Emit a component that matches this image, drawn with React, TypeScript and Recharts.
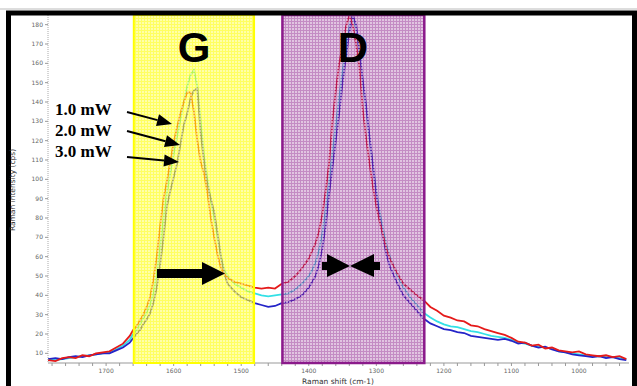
import React from 'react';
import { LineChart, Line, XAxis, YAxis, ReferenceArea } from 'recharts';

const ramanShift = [
  1786, 1775, 1765, 1755, 1745, 1735, 1725, 1715, 1705, 1695, 1685, 1675, 1665, 1660, 1655, 1650,
  1645, 1640, 1635, 1630, 1625, 1620, 1615, 1610, 1605, 1600, 1595, 1590, 1585, 1580, 1575, 1570,
  1565, 1560, 1555, 1550, 1545, 1540, 1535, 1530, 1525, 1520, 1510, 1500, 1490, 1480, 1470, 1460,
  1450, 1440, 1430, 1420, 1410, 1400, 1395, 1390, 1385, 1380, 1375, 1370, 1365, 1360, 1355, 1350,
  1345, 1340, 1335, 1330, 1325, 1320, 1315, 1310, 1305, 1300, 1295, 1290, 1285, 1280, 1270, 1260,
  1250, 1240, 1230, 1220, 1210, 1200, 1190, 1180, 1170, 1160, 1150, 1140, 1130, 1120, 1110, 1100,
  1090, 1080, 1070, 1060, 1050, 1040, 1030, 1020, 1010, 1000, 990, 980, 970, 960, 950, 940, 930,
];

// 1.0 mW (red)
const power1mW = [
  6.5, 6, 7.5, 8, 7.5, 9, 8.5, 10, 10.5, 11, 13, 15, 19, 22, 24, 27,
  30, 34, 39, 48, 60, 76, 90, 99, 109, 119, 127, 134, 140, 145, 145, 135,
  120, 109, 103, 93, 80, 70, 61, 54, 51, 49, 47, 46, 45, 44, 43.5, 44,
  43.5, 46, 47, 50, 54, 59, 63, 67, 73, 82, 94, 108, 130, 146, 160, 169,
  179, 185, 180, 170, 158, 136, 121, 108, 96, 86, 78, 71, 64, 59, 52, 46,
  43, 40, 37.5, 34, 32, 29.5, 28.5, 27, 26.5, 24.5, 24, 22.5, 21.5, 20.5, 19.5, 18,
  16, 15.5, 14, 14.5, 12.5, 13, 11.5, 11, 10.5, 11, 9.5, 9, 8.5, 9, 8, 8.5, 7,
];

// 2.0 mW (cyan)
const power2mW = [
  7, 6.5, 7, 7.5, 8, 8.5, 9, 9.5, 10, 10.5, 12, 14, 17, 20, 22, 25,
  28, 31, 35, 41, 51, 65, 80, 93, 103, 113, 122, 131, 140, 148, 154, 156.5,
  148, 130, 112, 100, 89, 80, 70, 60, 53, 50, 46, 44, 42, 41, 40, 39.5,
  40, 40.5, 41, 43, 46, 50, 53, 57, 63, 72, 84, 98, 114, 128, 142, 156,
  168, 179, 185, 178, 166, 150, 136, 121, 107, 94, 83, 74, 66, 60, 51, 44,
  39, 35, 31, 28.5, 26.5, 25, 24, 23.5, 22.5, 21.5, 21, 20, 19, 18.5, 18, 17,
  15.5, 15, 14, 13.5, 13, 12.5, 11, 10.5, 10, 9.5, 9, 8.5, 8.5, 8, 8, 7.5, 7,
];

// 3.0 mW (blue)
const power3mW = [
  7, 7.5, 7, 8, 8.5, 8, 9, 9.5, 10, 10, 11.5, 13, 15.5, 17.8, 20, 22,
  25, 27.5, 30.7, 36, 44, 56, 70, 86, 94, 101, 108, 118, 128, 134, 142, 146,
  147, 124, 109, 97, 90, 83, 72, 60, 51, 46, 42, 39, 37.5, 36, 35, 34,
  34.5, 36, 36.5, 38, 40, 44, 47, 50, 56, 64, 76, 92, 106, 120, 134, 150,
  163, 176, 185, 180, 166, 151, 138, 122, 107, 92, 80, 70, 61, 55, 47, 40,
  36, 32, 28, 25.5, 24, 22.5, 22, 21, 20.5, 19, 18.5, 18, 17.5, 17, 17.5, 16.5,
  15, 15.5, 14, 13, 13.5, 12, 11, 10.5, 9.5, 9, 8.5, 8, 8.5, 7.5, 8, 7, 6.5,
];

const seriesLabels = ['1.0 mW', '2.0 mW', '3.0 mW'];
const seriesColors = ['#e51a1a', '#33e0e6', '#2424c8'];
const xTicks = [
  1780, 1760, 1740, 1720, 1700, 1680, 1660, 1640, 1620, 1600, 1580, 1560, 1540, 1520, 1500, 1480,
  1460, 1440, 1420, 1400, 1380, 1360, 1340, 1320, 1300, 1280, 1260, 1240, 1220, 1200, 1180, 1160,
  1140, 1120, 1100, 1080, 1060, 1040, 1020, 1000, 980, 960, 940,
];
const xTickLabels = [1700, 1600, 1500, 1400, 1300, 1200, 1100, 1000];
const yTicks = [10, 20, 30, 40, 50, 60, 70, 80, 90, 100, 110, 120, 130, 140, 150, 160, 170, 180];
const bandG = [1659, 1481];
const bandD = [1439, 1229];
const bandLabels = ['G', 'D'];
const xTitle = 'Raman shift (cm-1)';
const yTitle = 'Raman intensity (cps)';

const data = ramanShift.map((s, i) => ({
  shift: s,
  p1: power1mW[i],
  p2: power2mW[i],
  p3: power3mW[i],
}));

function arrowHead(x1: number, y1: number, x2: number, y2: number, len: number, half: number) {
  const dx = x2 - x1;
  const dy = y2 - y1;
  const d = Math.sqrt(dx * dx + dy * dy);
  const ux = dx / d;
  const uy = dy / d;
  const bx = x2 - ux * len;
  const by = y2 - uy * len;
  const px = -uy;
  const py = ux;
  return {
    pts: `${x2},${y2} ${bx + px * half},${by + py * half} ${bx - px * half},${by - py * half}`,
    bx,
    by,
  };
}

const smallArrows = [
  [127, 112, 172, 124],
  [127, 131, 180, 145],
  [127, 157, 179, 162],
];

const tickStyle = { fontSize: 6, fill: '#666', fontFamily: 'DejaVu Sans' };

export default function App() {
  return (
    <div style={{ position: 'absolute', left: 0, top: 0, width: 637, height: 386, background: '#fff', overflow: 'hidden' }}>
      <svg width={0} height={0} style={{ position: 'absolute' }}>
        <defs>
          <pattern id="yellowGrid" width="3" height="3" patternUnits="userSpaceOnUse">
            <rect width="3" height="3" fill="#ffff00" fillOpacity="0.62" />
            <rect x="1" y="1" width="2" height="2" fill="#ffffff" fillOpacity="0.45" />
          </pattern>
          <pattern id="purpleGrid" width="3" height="3" patternUnits="userSpaceOnUse">
            <rect width="3" height="3" fill="#8a1a8a" fillOpacity="0.5" />
            <rect x="1" y="1" width="2" height="2" fill="#ffffff" fillOpacity="0.5" />
          </pattern>
        </defs>
      </svg>
      <LineChart width={637} height={386} data={data} margin={{ top: 15, right: 8, bottom: 5, left: 26 }}>
        <XAxis
          dataKey="shift"
          type="number"
          domain={[926, 1786]}
          reversed
          ticks={xTicks}
          interval={0}
          allowDataOverflow
          height={18}
          tickSize={3}
          tickMargin={3}
          tick={tickStyle}
          tickFormatter={(v: number) => (xTickLabels.includes(v) ? String(v) : '')}
          stroke="#999"
        />
        <YAxis
          type="number"
          domain={[5, 185]}
          ticks={yTicks}
          interval={0}
          allowDataOverflow
          width={22}
          tickSize={3}
          tickMargin={2}
          tick={tickStyle}
          axisLine={{ stroke: '#aaa', strokeDasharray: '1 1' }}
          tickLine={{ stroke: '#999' }}
        />
        <Line dataKey="p2" stroke={seriesColors[1]} strokeWidth={1.8} dot={false} isAnimationActive={false} />
        <Line dataKey="p3" stroke={seriesColors[2]} strokeWidth={1.8} dot={false} isAnimationActive={false} />
        <Line dataKey="p1" stroke={seriesColors[0]} strokeWidth={1.8} dot={false} isAnimationActive={false} />
        <ReferenceArea
          x1={bandG[0]}
          x2={bandG[1]}
          fill="url(#yellowGrid)"
          fillOpacity={1}
          stroke="#ffff00"
          strokeWidth={2}
          zIndex={900}
        />
        <ReferenceArea
          x1={bandD[0]}
          x2={bandD[1]}
          fill="url(#purpleGrid)"
          fillOpacity={1}
          stroke="#8b1a8b"
          strokeWidth={2.5}
          zIndex={900}
        />
      </LineChart>
      <svg width={637} height={386} style={{ position: 'absolute', left: 0, top: 0, pointerEvents: 'none' }}>
        <line x1={0} y1={9} x2={637} y2={9} stroke="#bbb" strokeWidth={1} />
        <rect x={8.5} y={13} width={626} height={400} fill="none" stroke="#000" strokeWidth={5} />
        <text x={194} y={62} textAnchor="middle" fontFamily="Liberation Sans, Arial" fontWeight="bold" fontSize={42} fill="#000">
          {bandLabels[0]}
        </text>
        <text x={353} y={62} textAnchor="middle" fontFamily="Liberation Sans, Arial" fontWeight="bold" fontSize={42} fill="#000">
          {bandLabels[1]}
        </text>
        {seriesLabels.map((s, i) => (
          <text key={s} x={55} y={[115, 136, 157][i]} fontFamily="Liberation Serif, Times New Roman" fontWeight="bold" fontSize={17} fill="#000">
            {s}
          </text>
        ))}
        {smallArrows.map(([x1, y1, x2, y2], i) => {
          const h = arrowHead(x1, y1, x2, y2, 15, 6);
          return (
            <g key={i}>
              <line x1={x1} y1={y1} x2={h.bx} y2={h.by} stroke="#000" strokeWidth={2} />
              <polygon points={h.pts} fill="#000" />
            </g>
          );
        })}
        <rect x={157} y={269} width={46} height={9} fill="#000" />
        <polygon points="202,262 225,273.5 202,285" fill="#000" />
        <rect x={322} y={262} width={6} height={8} fill="#000" />
        <polygon points="327,254 350,266 327,277" fill="#000" />
        <polygon points="374,254 350,266 374,277" fill="#000" />
        <rect x={373} y={262} width={7} height={8} fill="#000" />
        <text x={15} y={190} transform="rotate(-90 15 190)" textAnchor="middle" fontFamily="DejaVu Sans" fontSize={7.5} fill="#333">
          {yTitle}
        </text>
        <text x={338} y={384} textAnchor="middle" fontFamily="DejaVu Sans" fontSize={7.5} fill="#333">
          {xTitle}
        </text>
      </svg>
    </div>
  );
}
